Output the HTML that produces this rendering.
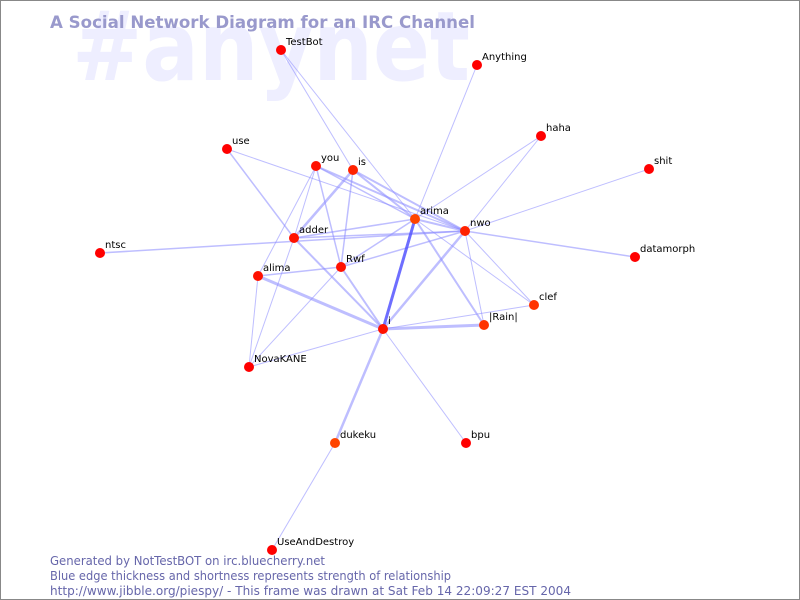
<!DOCTYPE html>
<html><head><style>
html,body{margin:0;padding:0;background:#fff}
svg{display:block}
</style></head><body>
<svg width="800" height="600" xmlns="http://www.w3.org/2000/svg" font-family="DejaVu Sans, Liberation Sans, sans-serif">
<rect x="0.5" y="0.5" width="799" height="599" fill="#fff" stroke="#888"/>
<text x="72" y="80" font-size="96" font-weight="bold" fill="#eeeeff" textLength="398" lengthAdjust="spacingAndGlyphs">#anynet</text>
<text x="50" y="28" font-size="17" font-weight="bold" fill="#9999cc" textLength="425" lengthAdjust="spacingAndGlyphs">A Social Network Diagram for an IRC Channel</text>
<g stroke="#8888ff" stroke-opacity="0.55" fill="none" stroke-width="1">
<line x1="281" y1="50" x2="353" y2="170"/>
<line x1="281" y1="50" x2="415" y2="219"/>
<line x1="477" y1="65" x2="415" y2="219"/>
<line x1="541" y1="136" x2="415" y2="219"/>
<line x1="541" y1="136" x2="465" y2="231"/>
<line x1="649" y1="169" x2="465" y2="231"/>
<line x1="227" y1="149" x2="294" y2="238" stroke-width="1.5"/>
<line x1="227" y1="149" x2="465" y2="231"/>
<line x1="100" y1="253" x2="465" y2="231" stroke-width="1.5"/>
<line x1="316" y1="166" x2="415" y2="219" stroke-width="1.5"/>
<line x1="316" y1="166" x2="465" y2="231" stroke-width="2"/>
<line x1="316" y1="166" x2="294" y2="238"/>
<line x1="316" y1="166" x2="341" y2="267" stroke-width="1.5"/>
<line x1="316" y1="166" x2="258" y2="276"/>
<line x1="353" y1="170" x2="415" y2="219" stroke-width="2"/>
<line x1="353" y1="170" x2="465" y2="231" stroke-width="2"/>
<line x1="353" y1="170" x2="294" y2="238" stroke-width="2.5"/>
<line x1="353" y1="170" x2="341" y2="267" stroke-width="1.5"/>
<line x1="294" y1="238" x2="415" y2="219" stroke-width="1.5"/>
<line x1="294" y1="238" x2="465" y2="231" stroke-width="1.5"/>
<line x1="294" y1="238" x2="383" y2="329" stroke-width="2"/>
<line x1="294" y1="238" x2="249" y2="367"/>
<line x1="258" y1="276" x2="341" y2="267" stroke-width="1.5"/>
<line x1="258" y1="276" x2="383" y2="329" stroke-width="3"/>
<line x1="258" y1="276" x2="249" y2="367"/>
<line x1="341" y1="267" x2="415" y2="219" stroke-width="1.5"/>
<line x1="341" y1="267" x2="465" y2="231" stroke-width="1.5"/>
<line x1="341" y1="267" x2="383" y2="329" stroke-width="2"/>
<line x1="341" y1="267" x2="249" y2="367"/>
<line x1="415" y1="219" x2="383" y2="329" stroke-width="3" stroke="#5555ff" stroke-opacity="0.85"/>
<line x1="415" y1="219" x2="484" y2="325" stroke-width="2"/>
<line x1="415" y1="219" x2="534" y2="305"/>
<line x1="415" y1="219" x2="465" y2="231" stroke-width="2"/>
<line x1="465" y1="231" x2="383" y2="329" stroke-width="2.5"/>
<line x1="465" y1="231" x2="534" y2="305"/>
<line x1="465" y1="231" x2="484" y2="325"/>
<line x1="465" y1="231" x2="635" y2="257" stroke-width="1.5"/>
<line x1="383" y1="329" x2="484" y2="325" stroke-width="3"/>
<line x1="383" y1="329" x2="534" y2="305"/>
<line x1="383" y1="329" x2="335" y2="443" stroke-width="2.5"/>
<line x1="383" y1="329" x2="466" y2="443"/>
<line x1="383" y1="329" x2="249" y2="367"/>
<line x1="335" y1="443" x2="272" y2="550"/>
</g>
<g stroke="none">
<circle cx="281" cy="50" r="5" fill="#ff0000"/>
<circle cx="477" cy="65" r="5" fill="#ff0000"/>
<circle cx="541" cy="136" r="5" fill="#ff0000"/>
<circle cx="649" cy="169" r="5" fill="#ff0000"/>
<circle cx="227" cy="149" r="5" fill="#ff0000"/>
<circle cx="316" cy="166" r="5" fill="#ff1100"/>
<circle cx="353" cy="170" r="5" fill="#ff2200"/>
<circle cx="415" cy="219" r="5" fill="#ff4400"/>
<circle cx="465" cy="231" r="5" fill="#ff2200"/>
<circle cx="294" cy="238" r="5" fill="#ff1100"/>
<circle cx="635" cy="257" r="5" fill="#ff0000"/>
<circle cx="100" cy="253" r="5" fill="#ff0000"/>
<circle cx="258" cy="276" r="5" fill="#ff1100"/>
<circle cx="341" cy="267" r="5" fill="#ff1100"/>
<circle cx="534" cy="305" r="5" fill="#ff3300"/>
<circle cx="484" cy="325" r="5" fill="#ff3300"/>
<circle cx="383" cy="329" r="5" fill="#ff1100"/>
<circle cx="249" cy="367" r="5" fill="#ff0000"/>
<circle cx="335" cy="443" r="5" fill="#ff4400"/>
<circle cx="466" cy="443" r="5" fill="#ff0000"/>
<circle cx="272" cy="550" r="5" fill="#ff0000"/>
</g>
<g font-size="10" fill="#000">
<text x="286" y="45">TestBot</text>
<text x="482" y="60">Anything</text>
<text x="546" y="131">haha</text>
<text x="654" y="164">shit</text>
<text x="232" y="144">use</text>
<text x="321" y="161">you</text>
<text x="358" y="165">is</text>
<text x="420" y="214">arima</text>
<text x="470" y="226">nwo</text>
<text x="299" y="233">adder</text>
<text x="640" y="252">datamorph</text>
<text x="105" y="248">ntsc</text>
<text x="263" y="271">alima</text>
<text x="346" y="262">Rwf</text>
<text x="539" y="300">clef</text>
<text x="489" y="320">|Rain|</text>
<text x="388" y="324">i</text>
<text x="254" y="362">NovaKANE</text>
<text x="340" y="438">dukeku</text>
<text x="471" y="438">bpu</text>
<text x="277" y="545">UseAndDestroy</text>
</g>
<g font-size="12" fill="#6666aa">
<text x="50" y="565" textLength="275" lengthAdjust="spacingAndGlyphs">Generated by NotTestBOT on irc.bluecherry.net</text>
<text x="50" y="580" textLength="401" lengthAdjust="spacingAndGlyphs">Blue edge thickness and shortness represents strength of relationship</text>
<text x="50" y="595" textLength="521" lengthAdjust="spacingAndGlyphs">http://www.jibble.org/piespy/ - This frame was drawn at Sat Feb 14 22:09:27 EST 2004</text>
</g>
</svg>
</body></html>
